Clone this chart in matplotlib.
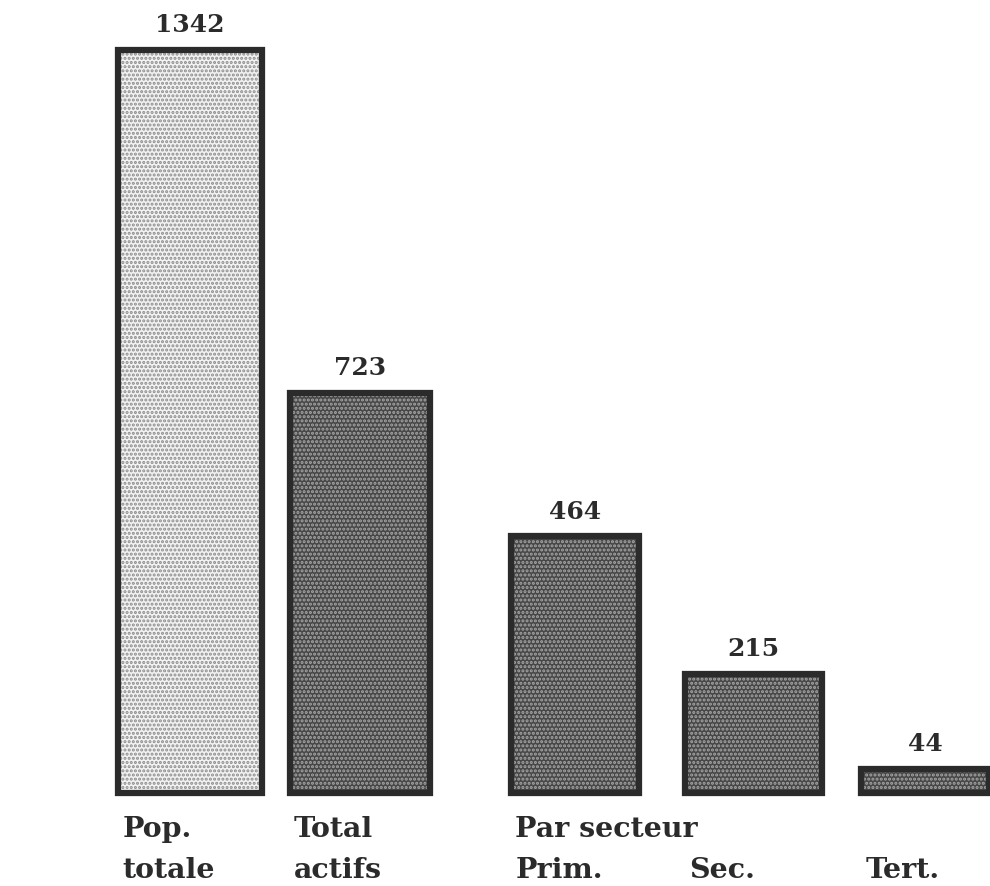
import matplotlib.pyplot as plt

# values
values = [1342, 723, 464, 215, 44]
label_top = ["Pop.", "Total", "Par secteur", "", ""]
label_bottom = ["totale", "actifs", "Prim.", "Sec.", "Tert."]

# layout
xpos = [0, 0.97, 2.2, 3.22, 4.2]
widths = [0.82, 0.8, 0.73, 0.78, 0.73]
fills = ["#f2f2f2", "#474747", "#474747", "#474747", "#474747"]
dots = ["#8c8c8c", "#a6a6a6", "#a6a6a6", "#a6a6a6", "#a6a6a6"]

ink = "#2b2b2b"
plt.rcParams["hatch.linewidth"] = 1.5
plt.rcParams["font.family"] = ["DejaVu Serif"]

fig = plt.figure(figsize=(9.9, 8.86), dpi=100)
ax = fig.add_axes([0, 0, 1, 1])

for x, v, w, fc, dc in zip(xpos, values, widths, fills, dots):
    # halftone look: dotted fill first, then the heavy outline
    ax.bar(x, v, width=w, color=fc, hatch="....", edgecolor=dc, linewidth=0)
    ax.bar(x, v, width=w, fill=False, edgecolor=ink, linewidth=4.5)
    ax.annotate(str(v), (x, v), xytext=(0, 9), textcoords="offset points",
                ha="center", va="bottom", fontsize=18, fontweight="bold", color=ink)

for x, w, t1, t2 in zip(xpos, widths, label_top, label_bottom):
    left = x - w / 2
    ax.annotate(t1, (left, 0), xytext=(3, -32), textcoords="offset points",
                ha="left", va="baseline", fontsize=20.5, fontweight="bold", color=ink)
    ax.annotate(t2, (left, 0), xytext=(3, -61), textcoords="offset points",
                ha="left", va="baseline", fontsize=20.5, fontweight="bold", color=ink)

ax.set_xlim(-1.086, 4.571)
ax.set_ylim(-168, 1432)
ax.axis("off")

fig.savefig("out.png", dpi=100)
